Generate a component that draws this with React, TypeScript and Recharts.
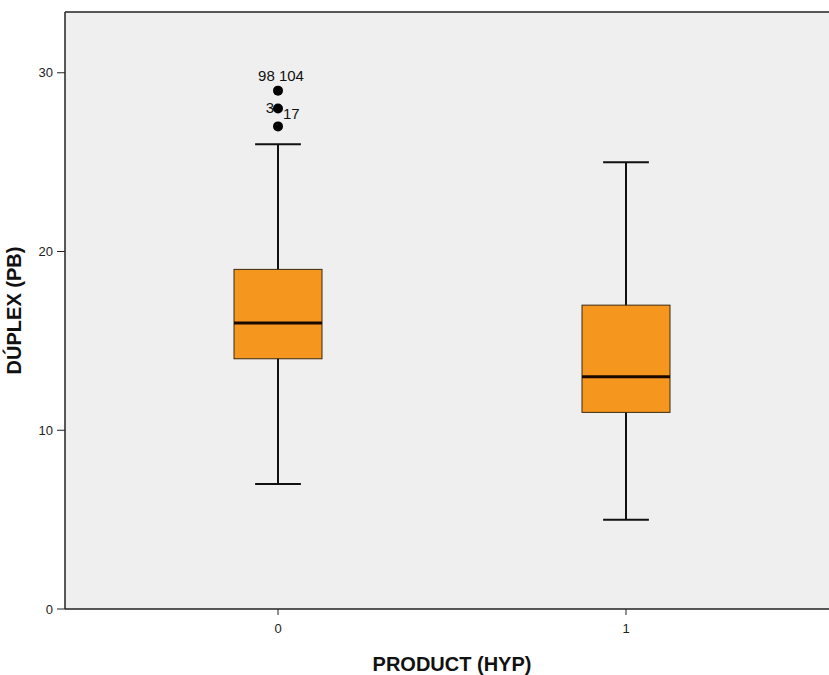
import React from 'react';
import {
  ComposedChart,
  Bar,
  Scatter,
  XAxis,
  YAxis,
  CartesianGrid,
  ReferenceLine,
  Label,
} from 'recharts';

// box plot stats per group
const categories = ['0', '1'];
const whiskerLow = [7, 5];
const q1 = [14, 11];
const median = [16, 13];
const q3 = [19, 17];
const whiskerHigh = [26, 25];

// outliers (group 0 only)
const outlierGroup = ['0', '0', '0'];
const outlierValues = [29, 28, 27];
const outlierLeftLabels = ['98', '3', ''];
const outlierRightLabels = ['104', '17', ''];

const yTicks = [0, 10, 20, 30];
const yMax = 33.4;

const data = categories.map((cat, i) => ({
  cat,
  whisker: [whiskerLow[i], whiskerHigh[i]],
  box: [q1[i], q3[i]],
  med: [median[i], median[i]],
}));

const outliers = outlierValues.map((v, i) => ({
  cat: outlierGroup[i],
  value: v,
  left: outlierLeftLabels[i],
  right: outlierRightLabels[i],
}));

const FONT = 'Arial, "Liberation Sans", sans-serif';
const ORANGE = '#F5961F';

const WhiskerShape = (props: any) => {
  const { x, y, width, height } = props;
  const cx = x + width / 2;
  const top = Math.min(y, y + height);
  const bottom = Math.max(y, y + height);
  const cap = width * 0.26;
  return (
    <g stroke="#111" strokeWidth={2}>
      <line x1={cx} x2={cx} y1={top} y2={bottom} />
      <line x1={cx - cap} x2={cx + cap} y1={top} y2={top} />
      <line x1={cx - cap} x2={cx + cap} y1={bottom} y2={bottom} />
    </g>
  );
};

const BoxShape = (props: any) => {
  const { x, y, width, height } = props;
  const top = Math.min(y, y + height);
  return (
    <rect
      x={x}
      y={top}
      width={width}
      height={Math.abs(height)}
      fill={ORANGE}
      stroke="#3a2a10"
      strokeWidth={1}
    />
  );
};

const MedianShape = (props: any) => {
  const { x, y, width } = props;
  return <line x1={x} x2={x + width} y1={y} y2={y} stroke="#1a0800" strokeWidth={3} />;
};

const OutlierShape = (props: any) => {
  const { cx, cy, payload } = props;
  const stacked = payload.value === 29;
  return (
    <g fontFamily={FONT} fontSize={15} fill="#111">
      {stacked && payload.left ? (
        <text x={cx + 3} y={cy - 10} textAnchor="middle">
          {payload.left + ' ' + payload.right}
        </text>
      ) : null}
      {!stacked && payload.left ? (
        <text x={cx - 4} y={cy + 4} textAnchor="end">
          {payload.left}
        </text>
      ) : null}
      {!stacked && payload.right ? (
        <text x={cx + 5} y={cy + 10} textAnchor="start">
          {payload.right}
        </text>
      ) : null}
      <circle cx={cx} cy={cy} r={5} fill="#000" />
    </g>
  );
};

export default function App() {
  return (
    <div
      style={{
        position: 'fixed',
        left: 0,
        top: 0,
        width: 829,
        height: 675,
        overflow: 'hidden',
        background: '#fff',
      }}
    >
      <ComposedChart
        width={845}
        height={675}
        data={data}
        margin={{ top: 12, right: 6, bottom: 0, left: 0 }}
        barGap={-88}
      >
        <CartesianGrid horizontal={false} vertical={false} fill="#EFEFEF" />
        <XAxis
          dataKey="cat"
          type="category"
          allowDuplicatedCategory={false}
          padding={{ left: 39, right: 39 }}
          height={66}
          axisLine={{ stroke: '#222', strokeWidth: 1.5 }}
          tickLine={{ stroke: '#222' }}
          tickSize={6}
          tickMargin={9}
          tick={{ fill: '#222', fontSize: 13, fontFamily: FONT }}
        >
          <Label
            value="PRODUCT (HYP)"
            position="insideBottom"
            offset={4}
            style={{ fontFamily: FONT, fontWeight: 'bold', fontSize: 20, fill: '#111' }}
          />
        </XAxis>
        <YAxis
          type="number"
          domain={[0, yMax]}
          ticks={yTicks}
          allowDataOverflow
          width={65}
          axisLine={{ stroke: '#222', strokeWidth: 1.5 }}
          tickLine={{ stroke: '#222' }}
          tickSize={8}
          tickMargin={4}
          tick={{ fill: '#222', fontSize: 13, fontFamily: FONT }}
        >
          <Label
            value="DÚPLEX (PB)"
            angle={-90}
            position="insideLeft"
            offset={14}
            style={{
              fontFamily: FONT,
              fontWeight: 'bold',
              fontSize: 20,
              fill: '#111',
              textAnchor: 'middle',
            }}
          />
        </YAxis>
        <ReferenceLine y={yMax} stroke="#222" strokeWidth={1.5} ifOverflow="visible" />
        <Bar dataKey="whisker" barSize={88} shape={WhiskerShape} isAnimationActive={false} />
        <Bar dataKey="box" barSize={88} shape={BoxShape} isAnimationActive={false} />
        <Bar dataKey="med" barSize={88} shape={MedianShape} isAnimationActive={false} />
        <Scatter
          data={outliers}
          dataKey="value"
          shape={OutlierShape}
          isAnimationActive={false}
        />
      </ComposedChart>
    </div>
  );
}
